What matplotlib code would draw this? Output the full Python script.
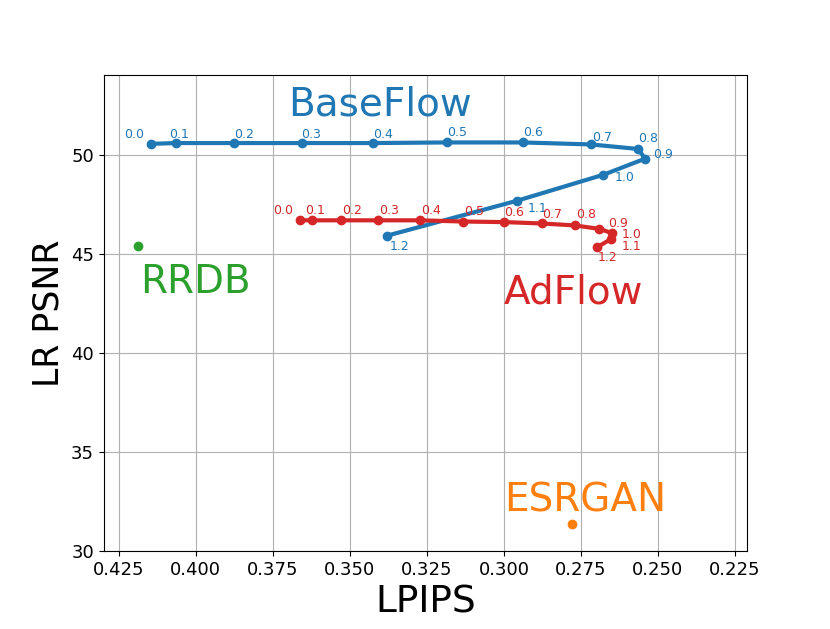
import numpy as np
import matplotlib
matplotlib.use("Agg")
import matplotlib.pyplot as plt

# temperature values (labels next to each point)
temps = ["0.0", "0.1", "0.2", "0.3", "0.4", "0.5", "0.6",
         "0.7", "0.8", "0.9", "1.0", "1.1", "1.2"]

# BaseFlow
base_lpips = [0.4146, 0.4063, 0.3877, 0.3657, 0.3424, 0.3186, 0.2939,
              0.2718, 0.2564, 0.2542, 0.2677, 0.2957, 0.3378]
base_psnr = [50.55, 50.59, 50.59, 50.59, 50.59, 50.62, 50.62,
             50.52, 50.29, 49.80, 48.99, 47.68, 45.92]

# AdFlow
ad_lpips = [0.3662, 0.3624, 0.3530, 0.3408, 0.3273, 0.3134, 0.2999,
            0.2876, 0.2769, 0.2691, 0.2648, 0.2653, 0.2699]
ad_psnr = [46.69, 46.69, 46.69, 46.69, 46.69, 46.63, 46.60,
           46.53, 46.43, 46.26, 46.04, 45.74, 45.32]

# single models
rrdb = (0.4189, 45.37)
esrgan = (0.2779, 31.36)

# label offsets in pixels (dx, dy), picked by hand so labels don't collide
base_off = [(-27, 6), (-7, 5), (0, 5), (0, 5), (0, 5), (0, 6), (0, 6),
            (1, 3), (0, 7), (8, 1), (11, -6), (10, -11), (2, -14)]
ad_off = [(-27, 6), (-7, 6), (1, 6), (1, 6), (1, 6), (1, 7), (0, 6),
          (0, 5), (1, 7), (9, 2), (9, -5), (11, -11), (1, -14)]

fig, ax = plt.subplots(figsize=(8.3, 6.29), dpi=100)
fig.subplots_adjust(left=0.125, right=0.9, bottom=0.124, top=0.88)

ax.plot(base_lpips, base_psnr, "o-", color="tab:blue", lw=3, ms=6)
ax.plot(ad_lpips, ad_psnr, "o-", color="tab:red", lw=3, ms=6)
ax.plot(*rrdb, "o", color="tab:green", ms=6)
ax.plot(*esrgan, "o", color="tab:orange", ms=6)

for t, x, y, off in zip(temps, base_lpips, base_psnr, base_off):
    ax.annotate(t, (x, y), xytext=off, textcoords="offset pixels",
                color="tab:blue", fontsize=9, ha="left", va="baseline")
for t, x, y, off in zip(temps, ad_lpips, ad_psnr, ad_off):
    ax.annotate(t, (x, y), xytext=off, textcoords="offset pixels",
                color="tab:red", fontsize=9, ha="left", va="baseline")

ax.text(0.370, 52.0, "BaseFlow", color="tab:blue", fontsize=28)
ax.text(0.300, 42.5, "AdFlow", color="tab:red", fontsize=28)
ax.text(0.418, 43.0, "RRDB", color="tab:green", fontsize=28)
ax.text(0.300, 32.0, "ESRGAN", color="tab:orange", fontsize=28)

ax.set_xlim(0.4299, 0.2211)
ax.set_ylim(30, 54)
ax.set_xticks(np.arange(0.425, 0.224, -0.025))
ax.set_yticks([30, 35, 40, 45, 50])
ax.tick_params(labelsize=13)
ax.grid(True)
ax.set_xlabel("LPIPS", fontsize=27)
ax.set_ylabel("LR PSNR", fontsize=25)

fig.savefig("out.png")
